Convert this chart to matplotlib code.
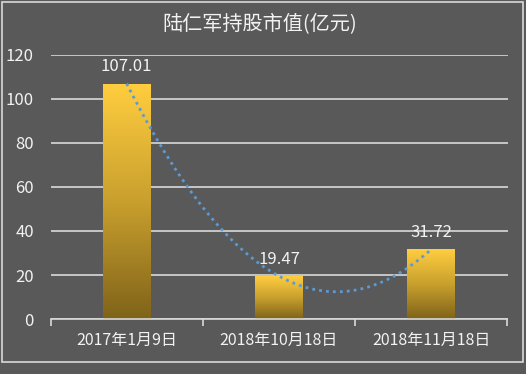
import numpy as np
import matplotlib
matplotlib.use("Agg")
import matplotlib.pyplot as plt
from matplotlib.patches import Rectangle
from matplotlib.colors import LinearSegmentedColormap

plt.rcParams['font.family'] = ['Noto Sans CJK SC', 'DejaVu Sans']

title = "陆仁军持股市值(亿元)"
categories = ["2017年1月9日", "2018年10月18日", "2018年11月18日"]
values = [107.01, 19.47, 31.72]
yticks = [0, 20, 40, 60, 80, 100, 120]

BG = "#595959"
TXT = "#F2F2F2"
GRID = "#D9D9D9"

W, H = 526, 374
fig = plt.figure(figsize=(W / 100, H / 100), dpi=100, facecolor=BG)

# chart border
fig.patches.append(Rectangle((1.5 / W, 1 - 361.5 / H), 521.5 / W, 360 / H,
                             transform=fig.transFigure, fill=False,
                             edgecolor=GRID, linewidth=1.2))

ax = fig.add_axes([50.5 / W, 1 - 319 / H, 457 / W, 264 / H])
ax.set_facecolor(BG)
ax.set_xlim(-0.5, 2.5)
ax.set_ylim(0, 120)

for s in ["top", "right", "left"]:
    ax.spines[s].set_visible(False)
ax.spines["bottom"].set_color(GRID)
ax.spines["bottom"].set_linewidth(1.2)

ax.set_yticks(yticks)
ax.yaxis.grid(True, color=GRID, linewidth=1.2)
ax.set_axisbelow(True)
ax.tick_params(axis='y', length=0, pad=12, labelsize=12, labelcolor=TXT)

x = np.arange(len(categories))
ax.set_xticks(x)
ax.set_xticklabels(categories)
ax.tick_params(axis='x', which='major', length=0, pad=9, labelsize=11.5, labelcolor=TXT)
ax.set_xticks(np.arange(len(categories) + 1) - 0.5, minor=True)
ax.tick_params(axis='x', which='minor', length=5, width=1.2, color=GRID, direction='out')

cmap = LinearSegmentedColormap.from_list("gold", ["#7F6319", "#C9A02E", "#FFCD3F"])
grad = np.linspace(0, 1, 256).reshape(-1, 1)
bw = 0.315
bars = ax.bar(x, values, width=bw, color='none', edgecolor='none', zorder=2)
for b in bars:
    x0, y0 = b.get_x(), b.get_y()
    w, h = b.get_width(), b.get_height()
    im = ax.imshow(grad, extent=[x0, x0 + w, y0, y0 + h], origin='lower',
                   cmap=cmap, aspect='auto', zorder=2)
    im.set_clip_path(b)

ax.set_xlim(-0.5, 2.5)
ax.set_ylim(0, 120)

# polynomial (order 2) trendline
coef = np.polyfit(x, values, 2)
xs = np.linspace(0, len(categories) - 1, 200)
ax.plot(xs, np.polyval(coef, xs), linestyle=(0, (1, 1.5)), color="#5B9BD5",
        linewidth=2, zorder=3)

for xi, v in zip(x, values):
    ax.annotate(f"{v:.2f}", (xi, v), xytext=(0, 6), textcoords='offset points',
                ha='center', va='bottom', color=TXT, fontsize=12, zorder=4)

fig.text(260 / W, 1 - 25 / H, title, ha='center', va='center', color=TXT, fontsize=14.5)

fig.savefig("out.png", dpi=100, facecolor=BG)
